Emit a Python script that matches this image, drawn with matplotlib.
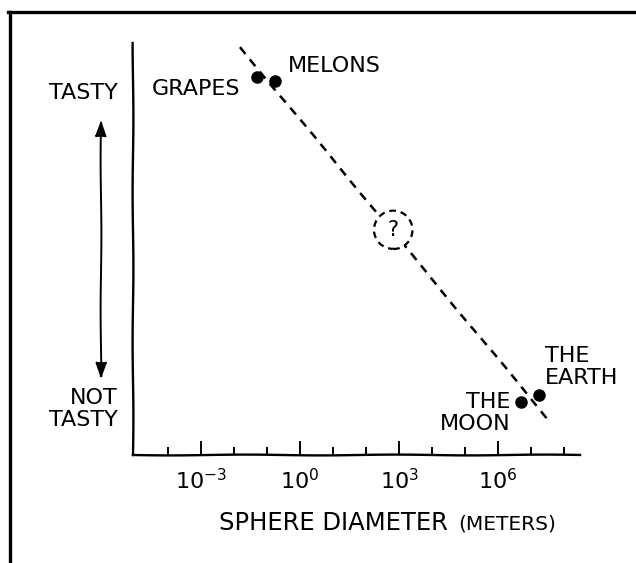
import numpy as np
import matplotlib
matplotlib.use('Agg')
import matplotlib.pyplot as plt
from matplotlib.lines import Line2D
from matplotlib.patches import Circle, FancyArrowPatch
from matplotlib.ticker import NullFormatter
from matplotlib.transforms import ScaledTranslation

# Spheres: log10 of diameter in meters, and tastiness (0 = not tasty, 10 = tasty)
names = ['GRAPES', 'MELONS', 'THE\nMOON', 'THE\nEARTH']
log_diam = [-1.3, -0.76, 6.7, 7.24]
taste = [9.17, 9.08, 1.29, 1.46]

# Dashed trend line and the unknown point on it
trend_log = [-1.82, 7.6]
trend_taste = [9.9, 0.78]
unknown_log = 2.82
unknown_taste = 5.46

label_exps = [-3, 0, 3, 6]
minor_exps = [-4, -2, -1, 1, 2, 4, 5, 7, 8]

# label placement next to each dot (pixels) and alignment
label_offsets = [(-17, -12), (13, 15), (-11, -11), (6, 28)]
label_ha = ['right', 'left', 'right', 'left']

with plt.xkcd(scale=0.4, length=150, randomness=1):
    plt.rcParams['font.family'] = ['DejaVu Sans']
    plt.rcParams['path.effects'] = []

    fig = plt.figure(figsize=(6.36, 5.63), dpi=100)
    ax = fig.add_axes([133 / 636, 1 - 455 / 563, 447 / 636, 412 / 563])

    ax.set_xscale('log')
    ax.set_xlim(10 ** -5.06, 10 ** 8.48)
    ax.set_ylim(0, 10)

    for s in ['top', 'right']:
        ax.spines[s].set_visible(False)
    for s in ['left', 'bottom']:
        ax.spines[s].set_linewidth(1.7)

    ax.set_yticks([])
    ax.set_xticks([10.0 ** e for e in label_exps])
    ax.set_xticklabels([r'$\mathregular{10^{%d}}$' % e for e in label_exps])
    ax.set_xticks([10.0 ** e for e in minor_exps], minor=True)
    ax.xaxis.set_minor_formatter(NullFormatter())
    ax.tick_params(axis='x', which='major', direction='in', length=10, width=1.4,
                   pad=9, labelsize=16)
    ax.tick_params(axis='x', which='minor', direction='in', length=6, width=1.4)

    # dashed trend line
    ax.plot([10.0 ** v for v in trend_log], trend_taste, color='black',
            lw=1.8, dashes=(3.5, 2.8), zorder=2)

    # unknown point: white dashed circle with a question mark
    cx, cy = 10.0 ** unknown_log, unknown_taste
    circ = Circle((0, 0), 0.19, transform=fig.dpi_scale_trans + ScaledTranslation(cx, cy, ax.transData),
                  facecolor='white', edgecolor='black', lw=1.6, linestyle=(0, (3, 2.2)), zorder=3)
    ax.add_artist(circ)
    ax.text(cx, cy, '?', ha='center', va='center', fontsize=15, zorder=4)

    # the spheres
    xs = [10.0 ** v for v in log_diam]
    ax.plot(xs, taste, 'o', color='black', markersize=8, zorder=5)
    for name, x, y, off, ha in zip(names, xs, taste, label_offsets, label_ha):
        ax.annotate(name, (x, y), xytext=off, textcoords='offset pixels',
                    ha=ha, va='center', multialignment=ha, fontsize=16,
                    linespacing=1.1)

    # y-axis labels and arrow
    fig.text(118 / 636, 1 - 93 / 563, 'TASTY', ha='right', va='center', fontsize=16)
    fig.text(118 / 636, 1 - 409 / 563, 'NOT\nTASTY', ha='right', va='center',
             multialignment='right', fontsize=16, linespacing=1.1)
    fig.add_artist(FancyArrowPatch(
        (101 / 636, 1 - 117 / 563), (101 / 636, 1 - 382 / 563),
        transform=fig.transFigure, arrowstyle='<|-|>,head_length=0.7,head_width=0.25',
        mutation_scale=14, color='black', lw=1.4))

    # x-axis label
    fig.text(333 / 636, 1 - 523 / 563, 'SPHERE DIAMETER', ha='center', va='center', fontsize=17.5)
    fig.text(507 / 636, 1 - 524 / 563, '(METERS)', ha='center', va='center', fontsize=14.5)

    # panel frame (cropped)
    for xd, yd in [([8 / 636, 1.0], [1 - 12 / 563] * 2), ([10 / 636] * 2, [1 - 12 / 563, 0.0])]:
        ln = Line2D(xd, yd, transform=fig.transFigure, color='black', lw=2.4)
        ln.set_sketch_params(None)
        fig.add_artist(ln)

    fig.savefig('out.png', dpi=100)
